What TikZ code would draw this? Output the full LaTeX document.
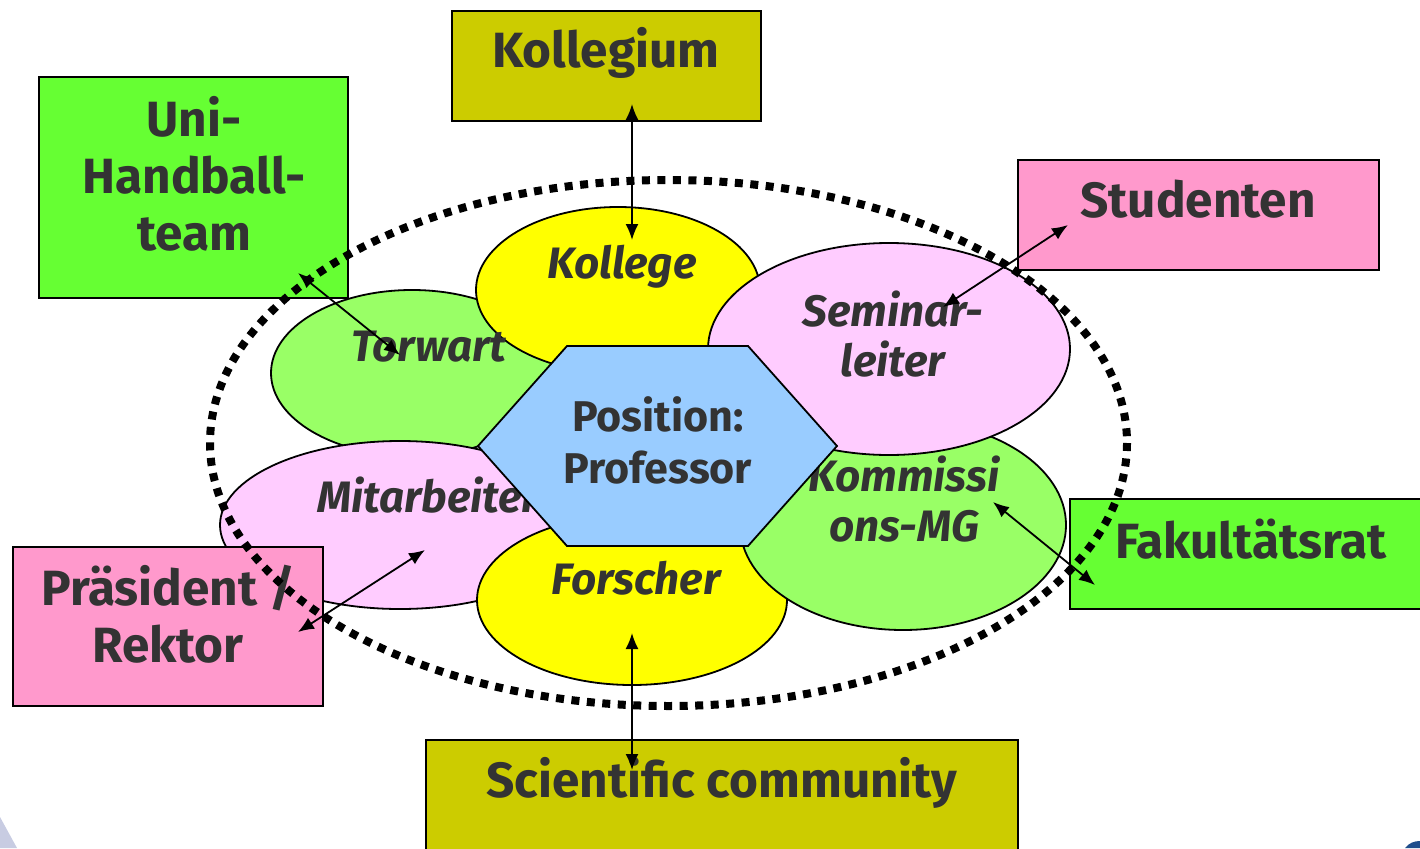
\documentclass[tikz,border=0pt]{standalone}
\usepackage{fontspec}
\setmainfont{Fira Sans}
\usetikzlibrary{shapes.geometric,arrows.meta}

\definecolor{boxolive}{HTML}{CCCC00}
\definecolor{boxgreen}{HTML}{66FF33}
\definecolor{boxpink}{HTML}{FF99CC}
\definecolor{ellgreen}{HTML}{99FF66}
\definecolor{ellpink}{HTML}{FFCCFF}
\definecolor{ellyellow}{HTML}{FFFF00}
\definecolor{hexblue}{HTML}{99CCFF}
\definecolor{txtgray}{HTML}{333333}
\definecolor{cornerlav}{HTML}{C8CCE2}
\definecolor{cornerblue}{HTML}{1F4E8C}

\begin{document}
\begin{tikzpicture}[x=1pt,y=1pt,yscale=-1,xscale=1,
  box/.style={draw,line width=1.8pt,inner sep=0pt,outer sep=0pt},
  bubble/.style={ellipse,draw,line width=1.8pt,inner sep=0pt,outer sep=0pt},
  boxtxt/.style={text=txtgray,font=\bfseries\fontsize{49.5}{57}\selectfont,align=center,inner sep=0pt},
  bubtxt/.style={text=txtgray,font=\bfseries\itshape\fontsize{44}{50}\selectfont,align=center,inner sep=0pt},
  hextxt/.style={text=txtgray,font=\bfseries\fontsize{43}{52}\selectfont,align=center,inner sep=0pt},
  link/.style={line width=1.8pt,{Latex[length=16pt,width=13pt]}-{Latex[length=16pt,width=13pt]}},
  ring/.style={line width=8pt,dash pattern=on 8pt off 7.5pt}]
\useasboundingbox (0,0) rectangle (1420,848);

% slide corners
\fill[cornerlav] (0,817) -- (17,848) -- (0,848) -- cycle;
\fill[cornerblue] (1405,848) .. controls (1409,843) and (1414,841) .. (1420,841) -- (1420,848) -- cycle;

% roles
\node[bubble,fill=ellgreen,minimum width=282,minimum height=166] (torwart) at (412,373) {};
\node[bubble,fill=ellpink,minimum width=360,minimum height=168] (mitarbeiter) at (400,525) {};
\node[bubble,fill=ellyellow,minimum width=284,minimum height=166] (kollege) at (618,290) {};
\node[bubble,fill=ellyellow,minimum width=310,minimum height=170] (forscher) at (632,600) {};
\node[bubble,fill=ellgreen,minimum width=326,minimum height=210] (kommission) at (903,525) {};
\node[bubble,fill=ellpink,minimum width=362,minimum height=212] (seminar) at (889,349) {};

\node[bubtxt] (torwart-t) at (429,347) {Torwart};
\node[bubtxt] (mitarbeiter-t) at (428,495) {Mitarbeiter};
\node[bubtxt] (kollege-t) at (622,267) {Kollege};
\node[bubtxt] (forscher-t) at (636,578) {Forscher};
\node[bubtxt] (kommission-t) at (904,499) {Kommissi\\ons-MG};
\node[bubtxt] (seminar-t) at (893,334) {Seminar-\\leiter};

% position
\draw[line width=1.8pt,fill=hexblue] (478,446) -- (567,346) -- (748,346) -- (837,446) -- (748,546) -- (567,546) -- cycle;
\node[hextxt] (position) at (658,440) {Position:\\Professor};

% reference groups
\node[box,fill=boxolive,minimum width=309,minimum height=110] (kollegium) at (606.5,66) {};
\node[box,fill=boxgreen,minimum width=309,minimum height=221] (handball) at (193.5,187.5) {};
\node[box,fill=boxpink,minimum width=361,minimum height=110] (studenten) at (1198.5,215) {};
\node[box,fill=boxgreen,minimum width=360,minimum height=110] (fakultaet) at (1250,554) {};
\node[box,fill=boxpink,minimum width=310,minimum height=159] (praesident) at (168,626.5) {};
\node[box,fill=boxolive,minimum width=592,minimum height=130] (community) at (722,805) {};

\node[boxtxt] (kollegium-t) at (606,53) {Kollegium};
\node[boxtxt] (handball-t) at (194,174) {Uni-\\Handball-\\team};
\node[boxtxt] (studenten-t) at (1198,199) {Studenten};
\node[boxtxt] (fakultaet-t) at (1251,539) {Fakultätsrat};
\node[boxtxt] (praesident-t) at (168,614) {Präsident /\\Rektor};
\node[boxtxt] (community-t) at (722,783) {Scientific community};

% role set
\draw[ring] (668.5,443) ellipse [x radius=458.5, y radius=263];

% links
\coordinate (kollegium-e) at (632,104);
\coordinate (kollege-e) at (632,240);
\coordinate (studenten-e) at (1068,225);
\coordinate (seminar-e) at (943,307);
\coordinate (handball-e) at (298,273);
\coordinate (torwart-e) at (400,355);
\coordinate (fakultaet-e) at (1095,585);
\coordinate (kommission-e) at (993,502);
\coordinate (praesident-e) at (298,632);
\coordinate (mitarbeiter-e) at (425,550);
\coordinate (community-e) at (632,770);
\coordinate (forscher-e) at (632,633);

\draw[link] (kollegium-e) -- (kollege-e);
\draw[link] (studenten-e) -- (seminar-e);
\draw[link] (handball-e) -- (torwart-e);
\draw[link] (fakultaet-e) -- (kommission-e);
\draw[link] (praesident-e) -- (mitarbeiter-e);
\draw[link] (community-e) -- (forscher-e);
\end{tikzpicture}
\end{document}
